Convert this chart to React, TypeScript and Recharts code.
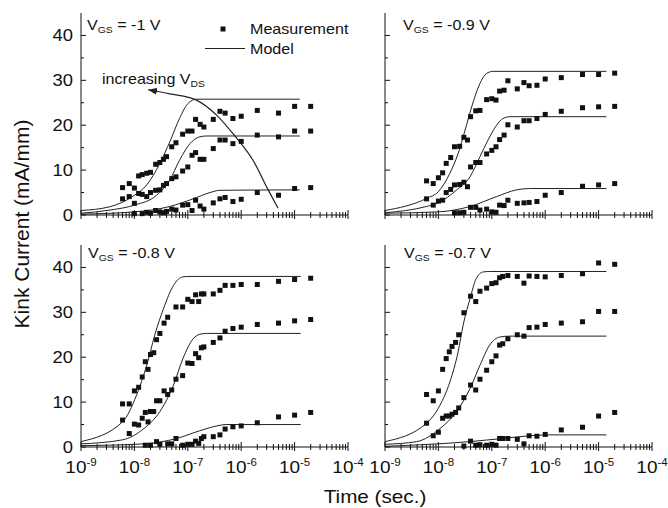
import { ComposedChart, Line, Scatter, XAxis, YAxis } from "recharts";

const FONT = "'Liberation Sans', Arial, Helvetica, sans-serif";
const STRETCH = 1.15; // the printed figure is a little wider than tall
const INK = "#111";

// axis ticks: decades with minor marks 2..9, current in steps of 5
const decadeExponents = [-9, -8, -7, -6, -5, -4];
const minorSteps = [2, 3, 4, 5, 6, 7, 8, 9];
const yTickValues = [0, 5, 10, 15, 20, 25, 30, 35, 40];

// ---- V_GS = -1 V ----
const timesA = [6e-9, 8e-9, 1e-8, 1.2e-8, 1.4e-8, 1.7e-8, 2e-8, 2.5e-8, 3e-8, 3.5e-8, 4e-8, 5e-8, 6e-8, 8e-8, 1e-7, 1.2e-7, 1.4e-7, 1.7e-7, 2e-7, 3e-7, 4e-7, 5e-7, 7e-7, 1e-6, 2e-6, 5e-6, 1e-5, 2e-5];
const measA1 = [6.1, 7.0, 6.0, 8.7, 9.0, 9.3, 9.5, 11.3, 11.7, 12.4, 13.0, 15.2, 16.1, 18.0, 18.7, 18.7, 21.3, 20.2, 19.6, 21.3, 23.1, 22.7, 21.5, 22.0, 23.3, 22.7, 24.2, 24.2];
const measA2 = [3.6, 4.1, 2.6, 4.8, 4.6, 4.1, 5.0, 5.5, 5.6, 6.6, 7.0, 8.1, 8.5, 9.8, 10.7, 13.3, 13.9, 12.4, 12.4, 14.8, 16.7, 16.7, 15.9, 16.4, 17.8, 17.4, 18.7, 18.7];
const measA3 = [null, null, 0.3, null, 0.3, 0.6, 0.4, 1.0, 0.7, 0.5, 0.8, 1.3, 1.1, 2.2, 2.3, 1.0, 3.3, 2.0, 1.3, 2.7, 3.6, 3.9, 3.0, 3.5, 5.0, 4.4, 5.9, 6.1];
const modelA1 = [[1e-9, 1.0], [3.5e-9, 1.85], [1e-8, 4.4], [1.7e-8, 6.7], [3e-8, 11.5], [4.6e-8, 16.3], [7e-8, 21.5], [1e-7, 24.8], [1.45e-7, 25.8], [1.25e-5, 25.8]];
const modelA2 = [[1e-9, 0.4], [3.5e-9, 1.1], [1e-8, 2.2], [2.6e-8, 4.4], [4.6e-8, 7.8], [7e-8, 12.2], [1.1e-7, 15.9], [1.65e-7, 17.4], [2.2e-7, 17.6], [1.25e-5, 17.6]];
const modelA3 = [[1e-9, 0.2], [1e-8, 0.7], [4.6e-8, 1.9], [1.26e-7, 3.6], [2.6e-7, 5.0], [4e-7, 5.5], [1.25e-5, 5.6]];
const arrowA = [[1.8e-8, 27.9], [4.6e-8, 27.0], [1.45e-7, 25.6], [3.5e-7, 22.2], [7.6e-7, 17.6], [1.66e-6, 12.2], [3.2e-6, 5.6], [4.9e-6, 1.5]];

// ---- V_GS = -0.9 V ----
const timesB = [6e-9, 8e-9, 1e-8, 1.2e-8, 1.4e-8, 1.7e-8, 2e-8, 2.5e-8, 3e-8, 3.5e-8, 4e-8, 5e-8, 6e-8, 8e-8, 1e-7, 1.2e-7, 1.4e-7, 1.7e-7, 2e-7, 3e-7, 4e-7, 5e-7, 7e-7, 1e-6, 2e-6, 5e-6, 1e-5, 2e-5];
const measB1 = [7.6, 7.0, 8.3, 9.4, 11.5, 12.8, 15.2, 15.3, 17.3, 16.7, 21.9, 23.2, 23.3, 25.7, 25.9, 25.6, 27.6, 27.8, 29.9, 28.1, 29.5, 28.8, 28.9, 30.3, 30.6, 31.3, 31.3, 31.6];
const measB2 = [3.6, 2.2, 3.1, 3.3, 5.0, 5.7, 6.7, 6.8, 7.3, 6.3, 10.7, 11.7, 11.7, 13.6, 14.4, 15.2, 16.8, 17.8, 20.1, 19.6, 21.0, 21.0, 21.5, 22.4, 23.1, 23.9, 24.1, 24.2];
const measB3 = [null, null, null, null, null, null, 0.5, 0.5, 0.6, null, 1.7, 1.7, 1.1, 1.3, 0.7, 0.6, 2.2, 2.1, 3.3, 2.6, 2.7, 2.8, 3.0, 4.4, 5.0, 6.4, 6.7, 7.0];
const modelB1 = [[1e-9, 1.0], [6e-9, 3.7], [1e-8, 5.2], [1.64e-8, 9.3], [2.34e-8, 13.7], [3.16e-8, 18.9], [4.2e-8, 24.1], [6e-8, 29.3], [7.9e-8, 31.5], [1.06e-7, 32.0], [1.4e-5, 32.0]];
const modelB2 = [[1e-9, 0.5], [6e-9, 1.9], [1e-8, 2.7], [2.2e-8, 5.6], [3.9e-8, 8.5], [6e-8, 13.0], [8.5e-8, 16.7], [1.23e-7, 20.0], [1.62e-7, 21.5], [2.2e-7, 21.9], [1.4e-5, 21.9]];
const modelB3 = [[1e-9, 0.4], [1e-8, 0.7], [3.9e-8, 1.9], [1.23e-7, 4.1], [2.9e-7, 5.6], [5.1e-7, 5.9], [1.4e-5, 5.9]];

// ---- V_GS = -0.8 V ----
const timesC = [6e-9, 8e-9, 1e-8, 1.2e-8, 1.4e-8, 1.6e-8, 1.8e-8, 2e-8, 2.3e-8, 2.6e-8, 3e-8, 3.6e-8, 4.2e-8, 5e-8, 6e-8, 8e-8, 1e-7, 1.2e-7, 1.4e-7, 1.6e-7, 1.8e-7, 2e-7, 3e-7, 4e-7, 5e-7, 7e-7, 1e-6, 2e-6, 5e-6, 1e-5, 2e-5];
const measC1 = [9.6, 9.6, 12.5, 13.3, 15.6, 19.0, 17.3, 20.6, 21.0, 23.9, 25.3, 27.6, 28.9, null, 31.2, 31.2, 32.9, 32.4, 33.9, 32.4, 34.1, 34.1, 34.1, 34.9, 36.0, 36.0, 36.2, 36.2, 36.9, 37.3, 37.6];
const measC2 = [6.0, 3.0, 5.1, 4.9, 6.4, 7.7, 5.6, 7.9, 7.9, 10.3, 10.3, 12.5, 11.7, 12.7, 15.1, 15.9, 18.7, 18.6, 20.8, 19.9, 22.1, 22.3, 23.3, 24.3, 25.8, 26.4, 26.7, 27.3, 27.6, 28.1, 28.4];
const measC3 = [null, null, null, null, null, 0.4, null, 0.4, null, 1.2, 0.6, null, 0.7, 0.7, 1.9, 0.4, 0.6, 0.6, 1.3, 0.8, 1.9, 2.3, 2.3, 2.7, 4.0, 4.5, 4.7, 5.4, 6.7, 7.1, 7.7];
const modelC1 = [[1e-9, 1.2], [6e-9, 5.6], [1.1e-8, 11.6], [1.7e-8, 18.2], [2.4e-8, 24.9], [3.5e-8, 30.8], [5.4e-8, 36.0], [8.1e-8, 37.9], [1.1e-7, 38.0], [1.3e-5, 38.0]];
const modelC2 = [[1e-9, 0.7], [6e-9, 1.6], [1.5e-8, 4.1], [3e-8, 7.9], [5.4e-8, 13.8], [8.1e-8, 19.7], [1.26e-7, 24.1], [1.66e-7, 25.1], [2.24e-7, 25.3], [1.3e-5, 25.3]];
const modelC3 = [[1e-9, 0.3], [1.5e-8, 0.7], [6.2e-8, 1.9], [1.66e-7, 3.6], [3.5e-7, 4.7], [5.2e-7, 5.0], [1.3e-5, 5.0]];

// ---- V_GS = -0.7 V ----
const timesD = [6e-9, 8e-9, 1e-8, 1.2e-8, 1.4e-8, 1.6e-8, 1.8e-8, 2.1e-8, 2.4e-8, 3e-8, 4e-8, 5e-8, 6e-8, 8e-8, 1e-7, 1.2e-7, 1.4e-7, 1.6e-7, 2e-7, 3e-7, 4e-7, 5e-7, 7e-7, 1e-6, 2e-6, 5e-6, 1e-5, 2e-5];
const measD1 = [11.7, 10.3, 12.5, 17.3, 19.7, 21.2, 22.4, 23.3, 25.0, 29.9, 33.6, 32.4, 34.7, 35.4, 36.4, 36.6, 37.7, 38.0, 38.2, 38.0, 36.5, 38.1, 38.0, 37.9, 38.2, 38.6, 41.0, 40.7];
const measD2 = [5.3, 2.5, 3.3, 6.4, 6.9, 6.9, 7.3, 7.7, 8.7, 11.0, 13.8, 12.7, 15.1, 17.1, 19.0, 20.3, 22.7, 23.0, 24.1, 25.0, 24.7, 26.6, 26.7, 27.3, 27.6, 27.9, 30.2, 30.2];
const measD3 = [null, null, null, null, null, null, null, null, null, 0.2, 1.3, 0.4, 0.5, 0.4, 0.6, 0.4, 1.9, 1.9, 1.9, 1.7, 0.7, 2.5, 2.4, 2.8, 3.8, 4.4, 6.9, 7.7];
const modelD1 = [[1e-9, 1.2], [6e-9, 5.3], [1.07e-8, 9.3], [1.64e-8, 14.5], [2.34e-8, 21.2], [2.9e-8, 27.1], [3.9e-8, 33.0], [5.1e-8, 37.5], [6.9e-8, 39.0], [9.1e-8, 39.1], [1.4e-5, 39.1]];
const modelD2 = [[1e-9, 0.6], [3.9e-9, 1.2], [1.07e-8, 4.1], [2.19e-8, 7.9], [3.9e-8, 13.0], [6e-8, 18.2], [9.1e-8, 22.7], [1.41e-7, 24.5], [2.19e-7, 24.7], [1.4e-5, 24.7]];
const modelD3 = [[1e-9, 0.15], [3.9e-8, 1.2], [1.62e-7, 1.9], [5.1e-7, 2.5], [1.05e-6, 2.7], [1.4e-5, 2.7]];

const PLOT_W = 267;
const PLOT_H = 202;
const PAD_L = 50;
const PAD_T = 10;
const PAD_R = 20;
const AXIS_H = 35;

const xTickValues = decadeExponents.flatMap((e, i) =>
  i < decadeExponents.length - 1 ? [10 ** e, ...minorSteps.map((k) => k * 10 ** e)] : [10 ** e],
);

type Pair = number[];

function toPoints(times: number[], values: (number | null)[]) {
  const pts: { t: number; v: number }[] = [];
  times.forEach((t, i) => {
    const v = values[i];
    if (v !== null && v !== undefined) pts.push({ t, v });
  });
  return pts;
}

const fromPairs = (pairs: Pair[]) => pairs.map(([t, v]) => ({ t, v }));

function XTick(props: any) {
  const { x, y, payload, showLabel } = props;
  const lg = Math.log10(payload.value);
  const exp = Math.round(lg);
  const major = Math.abs(lg - exp) < 1e-6;
  return (
    <g>
      <line x1={x} x2={x} y1={major ? y - 5 : y - 3} y2={major ? y + 4 : y + 3} stroke={INK} strokeWidth={1} />
      {major && showLabel && (
        <text
          transform={`translate(${x},${y + 26}) scale(${STRETCH},1)`}
          textAnchor="middle"
          fontFamily={FONT}
          fontSize={16.5}
          fill={INK}
        >
          10
          <tspan dy={-7} fontSize={10}>
            {exp}
          </tspan>
        </text>
      )}
    </g>
  );
}

function YTick(props: any) {
  const { x, y, payload, showLabel } = props;
  const major = payload.value % 10 === 0;
  return (
    <g>
      <line x1={x} x2={x + (major ? 5 : 3)} y1={y} y2={y} stroke={INK} strokeWidth={1} />
      {major && showLabel && (
        <text
          transform={`translate(${x - 8},${y + 5.5}) scale(${STRETCH},1)`}
          textAnchor="end"
          fontFamily={FONT}
          fontSize={16}
          fill={INK}
        >
          {payload.value}
        </text>
      )}
    </g>
  );
}

const Square = (p: any) => <rect x={p.cx - 2.5} y={p.cy - 2.5} width={5} height={5} fill={INK} />;

interface PanelProps {
  left: number;
  top: number;
  times: number[];
  series: (number | null)[][];
  models: Pair[][];
  arrow?: Pair[];
  xLabels: boolean;
  yLabels: boolean;
}

function Panel({ left, top, times, series, models, arrow, xLabels, yLabels }: PanelProps) {
  return (
    <div style={{ position: "absolute", left: left - PAD_L, top: top - PAD_T }}>
      <ComposedChart
        width={PAD_L + PLOT_W + PAD_R}
        height={PAD_T + PLOT_H + AXIS_H}
        margin={{ top: PAD_T, right: PAD_R, bottom: 0, left: 0 }}
      >
        <XAxis
          dataKey="t"
          type="number"
          scale="log"
          domain={[1e-9, 1e-4]}
          ticks={xTickValues}
          interval={0}
          tickSize={0}
          tickMargin={0}
          tickLine={false}
          axisLine={{ stroke: INK }}
          tick={<XTick showLabel={xLabels} />}
          height={AXIS_H}
        />
        <YAxis
          dataKey="v"
          type="number"
          domain={[0, 45]}
          ticks={yTickValues}
          interval={0}
          tickSize={0}
          tickMargin={0}
          tickLine={false}
          axisLine={{ stroke: INK }}
          tick={<YTick showLabel={yLabels} />}
          width={PAD_L}
        />
        {models.map((m, i) => (
          <Line
            key={`model-${i}`}
            data={fromPairs(m)}
            dataKey="v"
            type="monotone"
            stroke="#222"
            strokeWidth={1}
            dot={false}
            activeDot={false}
            isAnimationActive={false}
          />
        ))}
        {arrow && (
          <Line
            data={fromPairs(arrow)}
            dataKey="v"
            type="monotone"
            stroke="#222"
            strokeWidth={1.2}
            dot={false}
            activeDot={false}
            markerStart="url(#vdsArrow)"
            isAnimationActive={false}
          />
        )}
        {series.map((s, i) => (
          <Scatter key={`meas-${i}`} data={toPoints(times, s)} shape={Square} isAnimationActive={false} />
        ))}
      </ComposedChart>
    </div>
  );
}

function Txt({ x, y, size, children, anchor = "start" }: any) {
  return (
    <text
      transform={`translate(${x},${y}) scale(${STRETCH},1)`}
      fontFamily={FONT}
      fontSize={size}
      fill={INK}
      textAnchor={anchor}
    >
      {children}
    </text>
  );
}

function VgsLabel({ x, y, value }: { x: number; y: number; value: string }) {
  return (
    <Txt x={x} y={y} size={14}>
      V
      <tspan dy={3} fontSize={9}>
        GS
      </tspan>
      <tspan dy={-3}>{` = ${value} V`}</tspan>
    </Txt>
  );
}

export default function App() {
  return (
    <div style={{ position: "absolute", left: 0, top: 0, width: 668, height: 508, overflow: "hidden", background: "#fff" }}>
      <svg width={0} height={0} style={{ position: "absolute" }}>
        <defs>
          <marker
            id="vdsArrow"
            viewBox="0 0 9 7"
            refX={9}
            refY={3.5}
            markerWidth={9}
            markerHeight={7}
            markerUnits="userSpaceOnUse"
            orient="auto-start-reverse"
          >
            <path d="M0,0 L9,3.5 L0,7 z" fill="#222" />
          </marker>
        </defs>
      </svg>

      <Panel left={81} top={13} times={timesA} series={[measA1, measA2, measA3]} models={[modelA1, modelA2, modelA3]} arrow={arrowA} xLabels={false} yLabels />
      <Panel left={385} top={13} times={timesB} series={[measB1, measB2, measB3]} models={[modelB1, modelB2, modelB3]} xLabels={false} yLabels={false} />
      <Panel left={81} top={245} times={timesC} series={[measC1, measC2, measC3]} models={[modelC1, modelC2, modelC3]} xLabels yLabels />
      <Panel left={385} top={245} times={timesD} series={[measD1, measD2, measD3]} models={[modelD1, modelD2, modelD3]} xLabels yLabels={false} />

      <svg width={668} height={508} style={{ position: "absolute", left: 0, top: 0, pointerEvents: "none" }}>
        <VgsLabel x={87} y={30} value="-1" />
        <VgsLabel x={403} y={30} value="-0.9" />
        <VgsLabel x={88} y={258} value="-0.8" />
        <VgsLabel x={404} y={258} value="-0.7" />

        {/* legend */}
        <rect x={220.5} y={26.5} width={5} height={5} fill={INK} />
        <Txt x={250} y={33.5} size={14}>Measurement</Txt>
        <line x1={205} x2={245} y1={48.5} y2={48.5} stroke="#222" strokeWidth={1} />
        <Txt x={250} y={54} size={14}>Model</Txt>

        <Txt x={102} y={84} size={14}>
          increasing V
          <tspan dy={3} fontSize={9}>
            DS
          </tspan>
        </Txt>

        <text transform="translate(29,224) rotate(-90)" textAnchor="middle" fontFamily={FONT} fontSize={21} fill={INK}>
          Kink Current (mA/mm)
        </text>
        <Txt x={375} y={503} size={18} anchor="middle">
          Time (sec.)
        </Txt>
      </svg>
    </div>
  );
}
